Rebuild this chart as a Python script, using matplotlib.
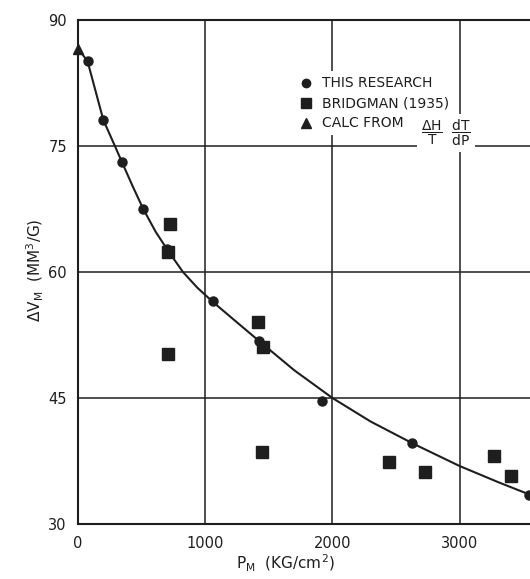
import numpy as np
import matplotlib
matplotlib.use('Agg')
import matplotlib.pyplot as plt

plt.rcParams['font.family'] = ['DejaVu Sans']
plt.rcParams['mathtext.fontset'] = 'dejavusans'

# 本研究数据（圆点）
this_p = [75, 199, 348, 513, 700, 1063, 1422, 1914, 2629, 3543]
this_v = [85.15, 78.1, 73.1, 67.5, 62.7, 56.5, 51.8, 44.6, 39.6, 33.4]

# Bridgman (1935)（方块）
bridg_p = [723, 705, 707, 1416, 1456, 1443, 2446, 2731, 3270, 3407]
bridg_v = [65.7, 62.4, 50.2, 54.1, 51.1, 38.6, 37.4, 36.2, 38.1, 35.7]

# 由 ΔH/T dT/dP 计算（三角）
calc_p = [0]
calc_v = [86.6]

# 曲线
curve_p = [0, 75, 199, 290, 348, 430, 513, 610, 709, 825, 940, 1063, 1250,
           1430, 1700, 2000, 2300, 2630, 3000, 3300, 3600]
curve_v = [86.6, 85.1, 78.1, 75.0, 73.0, 70.2, 67.5, 64.8, 62.5, 60.0, 58.1,
           56.4, 54.0, 51.7, 48.3, 45.0, 42.2, 39.6, 36.9, 35.0, 33.2]

x_ticks = [0, 1000, 2000, 3000]
y_ticks = [30, 45, 60, 75, 90]

ink = '#1e1e1e'

fig = plt.figure(figsize=(5.30, 5.79), dpi=100)
ax = fig.add_axes([78 / 530, 1 - 524 / 579, 458 / 530, 504 / 579])

ax.set_xlim(0, 3600)
ax.set_ylim(30, 90)
ax.set_xticks(x_ticks)
ax.set_yticks(y_ticks)
ax.tick_params(length=0, labelsize=10.5, colors=ink)
ax.tick_params(axis='x', pad=9)
ax.tick_params(axis='y', pad=8)

for g in x_ticks[1:]:
    ax.axvline(g, color=ink, lw=1.1, zorder=1)
for g in y_ticks[1:-1]:
    ax.axhline(g, color=ink, lw=1.1, zorder=1)

for s in ['left', 'bottom', 'top']:
    ax.spines[s].set_linewidth(1.5)
    ax.spines[s].set_color(ink)
ax.spines['right'].set_visible(False)

ax.plot(curve_p, curve_v, color=ink, lw=1.5, zorder=3)
ax.plot(this_p, this_v, 'o', color=ink, ms=6.5, zorder=4, clip_on=False)
ax.plot(bridg_p, bridg_v, 's', color=ink, ms=8, zorder=4, clip_on=False)
ax.plot(calc_p, calc_v, '^', color=ink, ms=7, zorder=4, clip_on=False)

# 图例（手动绘制）
lx, tx = 0.498, 0.533
rows = [0.875, 0.835, 0.796]
labels = ['THIS RESEARCH', 'BRIDGMAN (1935)', 'CALC FROM']
marks = [('o', 6), ('s', 7), ('^', 6.5)]
for (m, ms), lab, ry in zip(marks, labels, rows):
    ax.text(tx, ry, lab, transform=ax.transAxes, fontsize=10, color=ink,
            va='center', ha='left', zorder=6,
            bbox=dict(fc='white', ec='none', pad=3.5))
    ax.plot([lx], [ry], m, color=ink, ms=ms, transform=ax.transAxes,
            zorder=7, clip_on=False)
ax.text(0.803, 0.776,
        r'$\dfrac{\mathrm{\Delta H}}{\mathrm{T}}\ \ \dfrac{\mathrm{dT}}{\mathrm{dP}}$',
        transform=ax.transAxes, fontsize=10, color=ink, va='center',
        ha='center', zorder=6, bbox=dict(fc='white', ec='none', pad=3))

fig.text(35 / 530, 1 - 270 / 579, r'$\Delta$V$_\mathrm{M}$  (MM$^3$/G)',
         rotation=90, fontsize=11, color=ink, ha='center', va='center')
fig.text(285 / 530, 1 - 563 / 579, r'P$_\mathrm{M}$  (KG/cm$^2$)',
         fontsize=11, color=ink, ha='center', va='center')

fig.savefig('out.png', dpi=100, facecolor='white')
